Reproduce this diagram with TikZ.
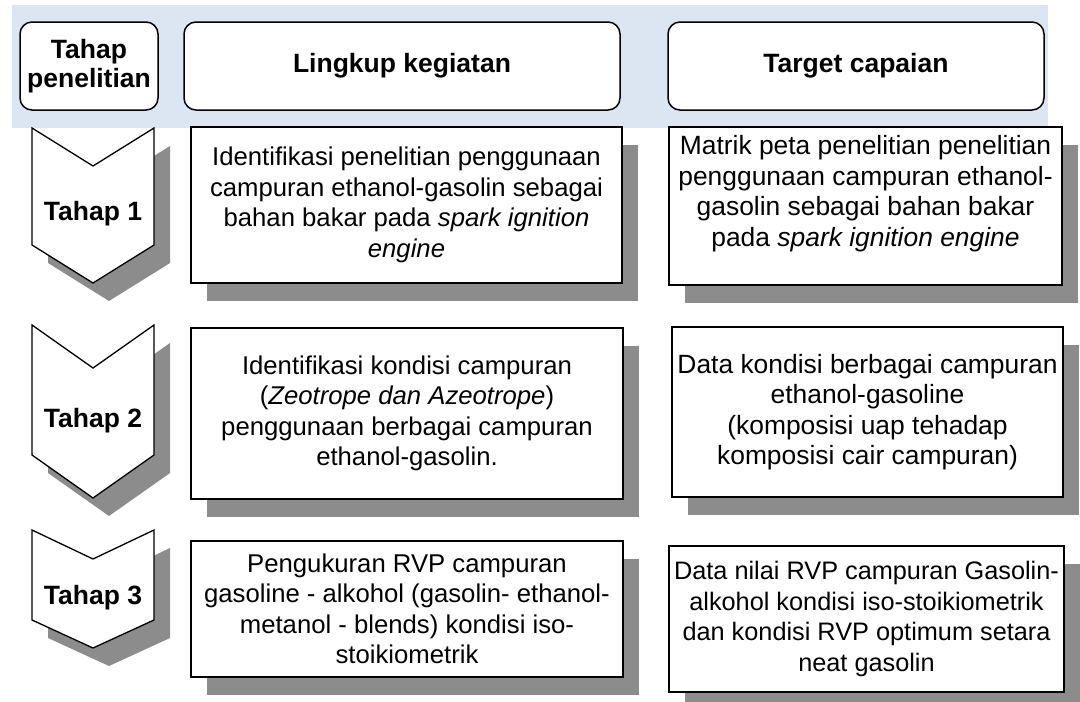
\documentclass[tikz,border=0pt]{standalone}
\usepackage{fontspec}
\setmainfont{Liberation Sans}
\usetikzlibrary{positioning, shadows}

\begin{document}
\begin{tikzpicture}[x=1pt, y=-1pt,
    every node/.style={align=center, inner sep=0pt, font=\fontsize{25.7}{30.5}\selectfont},
    kepala/.style={draw, line width=1.5pt, fill=white, rounded corners=12pt,
        minimum height=88pt, font=\fontsize{26.5}{29}\selectfont\bfseries},
    isibox/.style={draw, line width=1.5pt, fill=white,
        drop shadow={shadow xshift=16pt, shadow yshift=-18pt, fill=bayangan, opacity=1}},
    panah/.style={draw, line width=1.3pt, fill=white,
        drop shadow={shadow xshift=16pt, shadow yshift=-18pt, fill=bayangan, opacity=1}},
    tahapteks/.style={font=\fontsize{26.5}{29}\selectfont\bfseries},
    besar/.style={font=\fontsize{26.4}{30.5}\selectfont}]

    % Colors
    \definecolor{pita}{RGB}{220,230,242}
    \definecolor{bayangan}{RGB}{140,140,140}

    \useasboundingbox (0,0) rectangle (1080,702);

    % ======================
    % Header
    % ======================
    \fill[pita] (12,5) rectangle (1048,128);
    \node[kepala, minimum width=138pt] (hTahap) at (89,66) {Tahap\\penelitian};
    \node[kepala, minimum width=436pt] (hLingkup) at (402,66) {Lingkup kegiatan};
    \node[kepala, minimum width=376pt] (hTarget) at (856,66) {Target capaian};

    % ======================
    % Tahap 1
    % ======================
    \draw[panah] (32,128) -- (93,166) -- (154,128) -- (154,245) -- (93,283) -- (32,245) -- cycle;
    \node[tahapteks] (tahap1) at (93,214) {Tahap 1};

    \node[isibox, minimum width=431pt, minimum height=156pt] (lingkup1) at (406.5,205)
        {Identifikasi penelitian penggunaan\\campuran ethanol-gasolin sebagai\\bahan bakar pada \textit{spark ignition}\\\textit{engine}};
    \node[isibox, besar, minimum width=393pt, minimum height=158pt] (target1) at (865.5,206)
        {Matrik peta penelitian penelitian\\penggunaan campuran ethanol-\\gasolin sebagai bahan bakar\\pada \textit{spark ignition engine}\\~};

    % ======================
    % Tahap 2
    % ======================
    \draw[panah] (32,325) -- (93,368) -- (154,325) -- (154,455) -- (93,498) -- (32,455) -- cycle;
    \node[tahapteks] (tahap2) at (93,421) {Tahap 2};

    \node[isibox, minimum width=432pt, minimum height=171pt] (lingkup2) at (407,413.5)
        {Identifikasi kondisi campuran\\(\textit{Zeotrope dan Azeotrope})\\penggunaan berbagai campuran\\ethanol-gasolin.};
    \node[isibox, besar, minimum width=391pt, minimum height=170pt] (target2) at (867.5,412)
        {Data kondisi berbagai campuran\\ethanol-gasoline\\(komposisi uap tehadap\\komposisi cair campuran)};

    % ======================
    % Tahap 3
    % ======================
    \draw[panah] (32,530) -- (93,559) -- (154,530) -- (154,620) -- (93,648) -- (32,620) -- cycle;
    \node[tahapteks] (tahap3) at (93,598) {Tahap 3};

    \node[isibox, minimum width=432pt, minimum height=136pt] (lingkup3) at (407,609)
        {Pengukuran RVP campuran\\gasoline - alkohol (gasolin- ethanol-\\metanol - blends) kondisi iso-\\stoikiometrik};
    \node[isibox, font=\fontsize{25.3}{30.5}\selectfont, minimum width=395pt, minimum height=146pt] (target3) at (866.5,619)
        {Data nilai RVP campuran Gasolin-\\alkohol kondisi iso-stoikiometrik\\dan kondisi RVP optimum setara\\neat gasolin};

\end{tikzpicture}
\end{document}
